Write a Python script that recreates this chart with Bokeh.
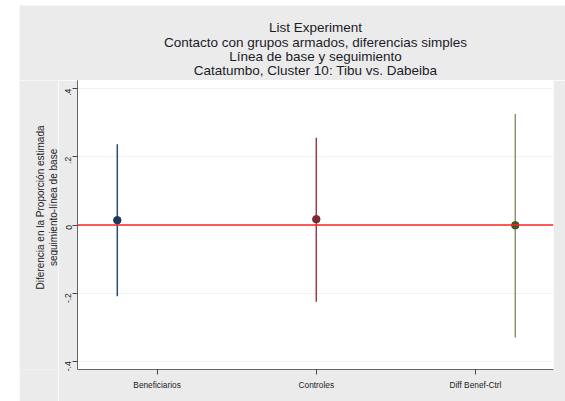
from bokeh.plotting import figure
from bokeh.models import Span, FixedTicker, Range1d, ColumnDataSource, Spacer
from bokeh.layouts import row, column
from bokeh.core.properties import value
from bokeh.embed import file_html
from bokeh.resources import INLINE
import math

# ---- data ----
categories = ["Beneficiarios", "Controles", "Diff Benef-Ctrl"]
estimates = [0.014, 0.017, -0.001]
ci_upper = [0.237, 0.256, 0.326]
ci_lower = [-0.209, -0.225, -0.330]
point_x = [0.75, 2.0, 3.25]
tick_positions = [1, 2, 3]
y_ticks = [-0.4, -0.2, 0.0, 0.2, 0.4]
y_tick_labels = ["-.4", "-.2", "0", ".2", ".4"]
title_lines = [
    "List Experiment",
    "Contacto con grupos armados, diferencias simples",
    "Línea de base y seguimiento",
    "Catatumbo, Cluster 10: Tibu vs. Dabeiba",
]
y_label_lines = ["Diferencia en la Proporción estimada", "seguimiento-línea de base"]
line_colors = ["#2b4d70", "#983c4a", "#8c9566"]
dot_colors = ["#1a3a5c", "#7a2a33", "#3e5528"]

FONT = "Liberation Sans"
BG = "#ebebeb"

# ---- layout constants (pixels) ----
TOTAL_W, TITLE_H, MAIN_H, YLAB_W = 546, 75, 321, 39
MAIN_W = TOTAL_W - YLAB_W


def blank_panel(w, h):
    f = figure(width=w, height=h, output_backend="svg", toolbar_location=None,
               x_range=Range1d(0, w), y_range=Range1d(0, h),
               min_border_left=0, min_border_right=0, min_border_top=0,
               min_border_bottom=0)
    f.axis.visible = False
    f.grid.visible = False
    f.outline_line_color = None
    f.background_fill_color = BG
    f.border_fill_color = BG
    return f


# title panel
tp = blank_panel(TOTAL_W, TITLE_H)
tsrc = ColumnDataSource(dict(x=[YLAB_W + 19 + 238] * 4, y=[53, 38.5, 24.5, 10.5],
                             t=title_lines))
tp.text(x="x", y="y", text="t", source=tsrc, text_align="center",
        text_baseline="middle", text_font=value(FONT), text_font_size="13.5px",
        text_color="#1c1c28")

# y axis title panel
yp = blank_panel(YLAB_W, MAIN_H)
ysrc = ColumnDataSource(dict(x=[21, 34], y=[180, 180], t=y_label_lines))
yp.text(x="x", y="y", text="t", source=ysrc, angle=math.pi / 2, text_align="center",
        text_baseline="middle", text_font=value(FONT), text_font_size="10px",
        text_color="#222222")

# main plot
p = figure(width=MAIN_W, height=MAIN_H, output_backend="svg", toolbar_location=None,
           x_range=Range1d(0.5, 3.49), y_range=Range1d(-0.424, 0.424),
           min_border_left=19, min_border_right=12, min_border_top=0,
           min_border_bottom=32)
p.border_fill_color = BG
p.background_fill_color = "white"
p.outline_line_color = None

src = ColumnDataSource(dict(x=point_x, y=estimates, lo=ci_lower, hi=ci_upper,
                            lc=line_colors, dc=dot_colors))
p.segment(x0="x", y0="lo", x1="x", y1="hi", line_color="lc", line_width=1.5, source=src)
p.add_layout(Span(location=0, dimension="width", line_color="#ff2020", line_width=1.5))
p.scatter(x="x", y="y", size=7.5, fill_color="dc", line_color="dc", source=src)

# x axis
p.xaxis.ticker = FixedTicker(ticks=tick_positions)
p.xaxis.major_label_overrides = {t: c for t, c in zip(tick_positions, categories)}
p.xaxis.major_label_text_font = FONT
p.xaxis.major_label_text_font_size = "8.3px"
p.xaxis.major_label_text_color = "#222222"
p.xaxis.minor_tick_line_color = None
p.xaxis.major_tick_out = 5
p.xaxis.major_tick_in = 0
p.xaxis.axis_line_color = "#666666"
p.xaxis.major_tick_line_color = "#444444"
p.xgrid.grid_line_color = None

# y axis
p.yaxis.ticker = FixedTicker(ticks=y_ticks)
p.yaxis.major_label_overrides = {t: l for t, l in zip(y_ticks, y_tick_labels)}
p.yaxis.major_label_orientation = math.pi / 2
p.yaxis.major_label_text_font = FONT
p.yaxis.major_label_text_font_size = "8.5px"
p.yaxis.major_label_text_color = "#222222"
p.yaxis.major_label_standoff = 4
p.yaxis.minor_tick_line_color = None
p.yaxis.major_tick_out = 5
p.yaxis.major_tick_in = 0
p.yaxis.axis_line_color = "#666666"
p.yaxis.major_tick_line_color = "#444444"
p.ygrid.grid_line_color = "#f2f2f2"

layout = column(Spacer(width=565, height=5),
                row(Spacer(width=19, height=TITLE_H + MAIN_H),
                    column(tp, row(yp, p))))
open("out.html", "w").write(file_html(layout, INLINE))
